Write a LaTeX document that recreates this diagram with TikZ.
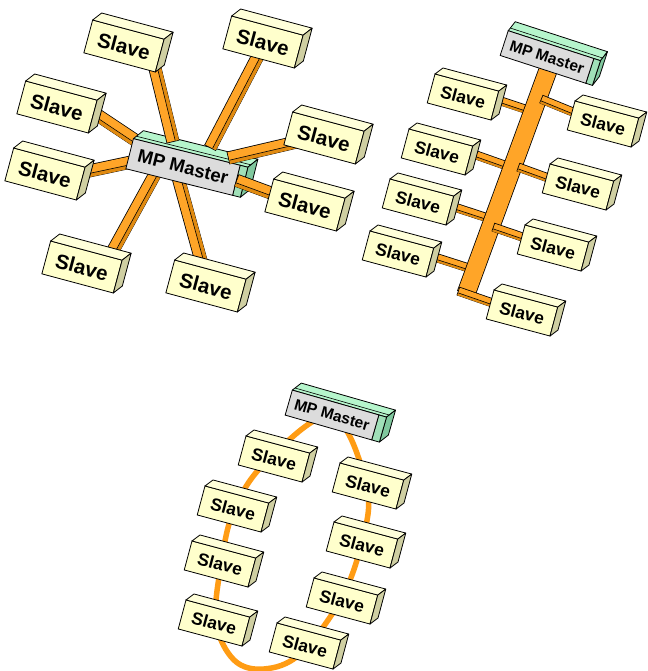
\documentclass[tikz,border=0pt]{standalone}
\usepackage{fontspec}
\setmainfont{Liberation Sans}
\usetikzlibrary{calc}
\definecolor{slvfront}{HTML}{FFFFCC}
\definecolor{slvtop}{HTML}{FFFFDA}
\definecolor{slvside}{HTML}{CFCFA2}
\definecolor{mgray}{HTML}{DCDCDC}
\definecolor{gtop}{HTML}{B6F5CC}
\definecolor{gside}{HTML}{80C89E}
\definecolor{gfront}{HTML}{A0E0B8}
\definecolor{bor}{HTML}{FFA528}
\definecolor{bstripe}{HTML}{E08A10}
\definecolor{ringc}{HTML}{FF9C14}
\tikzset{
  slvbase/.style={fill=slvfront, draw, line width=0.8pt, rotate=-15, inner sep=0pt, outer sep=0pt},
  slvbig/.style={slvbase, minimum width=74pt, minimum height=34pt, font=\bfseries\fontsize{20.5}{20.5}\selectfont},
  slvsmall/.style={slvbase, minimum width=66pt, minimum height=30pt, font=\bfseries\fontsize{17.5}{17.5}\selectfont},
  mbase/.style={inner sep=0pt, outer sep=0pt, line width=0.8pt},
  mbig/.style={mbase, rotate=-14, minimum width=110pt, minimum height=31pt, font=\bfseries\fontsize{18.5}{18.5}\selectfont},
  mbus/.style={mbase, rotate=-18, minimum width=90pt, minimum height=26pt, font=\bfseries\fontsize{15.5}{15.5}\selectfont},
  mring/.style={mbase, rotate=-16, minimum width=90pt, minimum height=26pt, font=\bfseries\fontsize{15.5}{15.5}\selectfont},
  facestyle/.style={line width=0.8pt, line join=round},
  ringline/.style={draw=ringc, line width=5.5pt},
}
% 3D slave box: name, position, style, depth vector
\newcommand\slave[4]{%
  \node[#3] (#1) at (#2) {Slave};
  \filldraw[facestyle, fill=slvtop] (#1.north west) -- (#1.north east) -- ($(#1.north east)+(#4)$) -- ($(#1.north west)+(#4)$) -- cycle;
  \filldraw[facestyle, fill=slvside] (#1.north east) -- (#1.south east) -- ($(#1.south east)+(#4)$) -- ($(#1.north east)+(#4)$) -- cycle;
}
% master box: name, position, style, depth vector, extension
\newcommand\master[5]{%
  \path node[#3] (#1) at (#2) {};
  \coordinate (#1-tr) at ($(#1.north east)!-#5pt!(#1.north west)$);
  \coordinate (#1-br) at ($(#1.south east)!-#5pt!(#1.south west)$);
  \coordinate (#1-tlb) at ($(#1.north west)+(#4)$);
  \coordinate (#1-trb) at ($(#1-tr)+(#4)$);
  \coordinate (#1-brb) at ($(#1-br)+(#4)$);
  \filldraw[facestyle, fill=gtop] (#1.north west) -- (#1-tr) -- (#1-trb) -- (#1-tlb) -- cycle;
  \filldraw[facestyle, fill=gside] (#1-tr) -- (#1-br) -- (#1-brb) -- (#1-trb) -- cycle;
  \filldraw[facestyle, fill=gfront] (#1.north east) -- (#1-tr) -- (#1-br) -- (#1.south east) -- cycle;
  \draw[line width=0.6pt] ($(#1.north west)!.3!(#1-tlb)$) -- ($(#1-tr)!.3!(#1-trb)$);
  \node[#3, draw, fill=mgray] (#1-face) at (#1) {MP Master};
}
% beam: [width] from, to, side of the dark stripe
\newcommand\beam[4][13]{%
  \pgfmathsetmacro\bwa{#1}%
  \pgfmathsetmacro\bwb{#1-1.6}%
  \pgfmathsetmacro\bsep{#4*0.19*#1}%
  \pgfmathsetmacro\bst{#4*0.34*#1}%
  \pgfmathsetmacro\bstw{0.27*#1}%
  \draw[line width=\bwa pt] (#2) -- (#3);
  \draw[bor, line width=\bwb pt, shorten <=0.8pt, shorten >=0.8pt] (#2) -- (#3);
  \draw[bstripe, line width=\bstw pt, shorten <=0.8pt, shorten >=0.8pt] ($(#2)!\bst pt!90:(#3)$) -- ($(#3)!\bst pt!-90:(#2)$);
  \draw[line width=0.6pt, shorten <=0.8pt, shorten >=0.8pt] ($(#2)!\bsep pt!90:(#3)$) -- ($(#3)!\bsep pt!-90:(#2)$);
}
\begin{document}
\begin{tikzpicture}[x=1pt, y=1pt]
\useasboundingbox[fill=white] (0,0) rectangle (647,-671);

% ---------------- star ----------------
\coordinate (b3a) at (90,-110);  \coordinate (b3b) at (150,-150);
\coordinate (b5a) at (70,-175);  \coordinate (b5b) at (150,-158);
\coordinate (b7a) at (160,-165); \coordinate (b7b) at (105,-265);
\coordinate (b8a) at (176,-170); \coordinate (b8b) at (203,-268);
\beam{b3a}{b3b}{-1}
\beam{b5a}{b5b}{-1}
\beam{b7a}{b7b}{1}
\beam{b8a}{b8b}{1}
\master{m1}{183,-167}{mbig}{10,8}{8}
\coordinate (b1a) at (150,-48);  \coordinate (b1b) at (173,-142);
\coordinate (b2a) at (260,-52);  \coordinate (b2b) at (210,-148);
\coordinate (b4a) at (305,-140); \coordinate (b4b) at (228,-158);
\coordinate (b6a) at (m1.east);  \coordinate (b6b) at (290,-200);
\beam{b1a}{b1b}{1}
\beam{b2a}{b2b}{1}
\beam{b4a}{b4b}{1}
\beam{b6a}{b6b}{-1}
\slave{s1}{124,-46}{slvbig}{9,7}
\slave{s2}{263,-42}{slvbig}{9,7}
\slave{s3}{57,-107}{slvbig}{9,7}
\slave{s4}{324,-138}{slvbig}{9,7}
\slave{s5}{45,-174}{slvbig}{9,7}
\slave{s6}{305,-205}{slvbig}{9,7}
\slave{s7}{82,-267}{slvbig}{9,7}
\slave{s8}{206,-286}{slvbig}{9,7}

% ---------------- bus ----------------
\coordinate (l1a) at (486,-96);  \coordinate (l1b) at (534,-112);
\coordinate (l2a) at (462,-150); \coordinate (l2b) at (513,-168);
\coordinate (l3a) at (442,-203); \coordinate (l3b) at (494,-220);
\coordinate (l4a) at (422,-253); \coordinate (l4b) at (475,-270);
\beam[9]{l1a}{l1b}{-1}
\beam[9]{l2a}{l2b}{-1}
\beam[9]{l3a}{l3b}{-1}
\beam[9]{l4a}{l4b}{-1}
\coordinate (busa) at (551,-62); \coordinate (busb) at (466,-294);
\draw[line width=19pt] (busa) -- (busb);
\draw[bor, line width=17.4pt, shorten <=0.8pt, shorten >=0.8pt] (busa) -- (busb);
\master{m2}{547,-57}{mbus}{7,9}{7}
\coordinate (r1a) at (541,-99);  \coordinate (r1b) at (590,-119);
\coordinate (r2a) at (518,-167); \coordinate (r2b) at (565,-184);
\coordinate (r3a) at (493,-227); \coordinate (r3b) at (540,-243);
\coordinate (r4a) at (458,-291); \coordinate (r4b) at (510,-309);
\beam[9]{r1a}{r1b}{-1}
\beam[9]{r2a}{r2b}{-1}
\beam[9]{r3a}{r3b}{-1}
\beam[9]{r4a}{r4b}{-1}
\slave{bl1}{463,-97}{slvsmall}{8,6}
\slave{br1}{603,-124}{slvsmall}{8,6}
\slave{bl2}{437,-152}{slvsmall}{8,6}
\slave{br2}{578,-187}{slvsmall}{8,6}
\slave{bl3}{418,-202}{slvsmall}{8,6}
\slave{br3}{553,-248}{slvsmall}{8,6}
\slave{bl4}{398,-254}{slvsmall}{8,6}
\slave{br4}{522,-313}{slvsmall}{8,6}

% ---------------- ring ----------------
\draw[ringline] plot[smooth cycle, tension=0.6] coordinates {(332,-416) (266,-462) (234,-510) (221,-565) (216,-622) (234,-660) (264,-669) (300,-654) (340,-601) (361,-545) (367,-488)};
\master{m3}{332,-415}{mring}{9,7}{8}
\slave{rl1}{274,-459}{slvsmall}{8,6}
\slave{rl2}{233,-509}{slvsmall}{8,6}
\slave{rl3}{220,-564}{slvsmall}{8,6}
\slave{rl4}{214,-623}{slvsmall}{8,6}
\slave{rr1}{368,-486}{slvsmall}{8,6}
\slave{rr2}{362,-545}{slvsmall}{8,6}
\slave{rr3}{342,-601}{slvsmall}{8,6}
\slave{rr4}{305,-646}{slvsmall}{8,6}
\end{tikzpicture}
\end{document}
